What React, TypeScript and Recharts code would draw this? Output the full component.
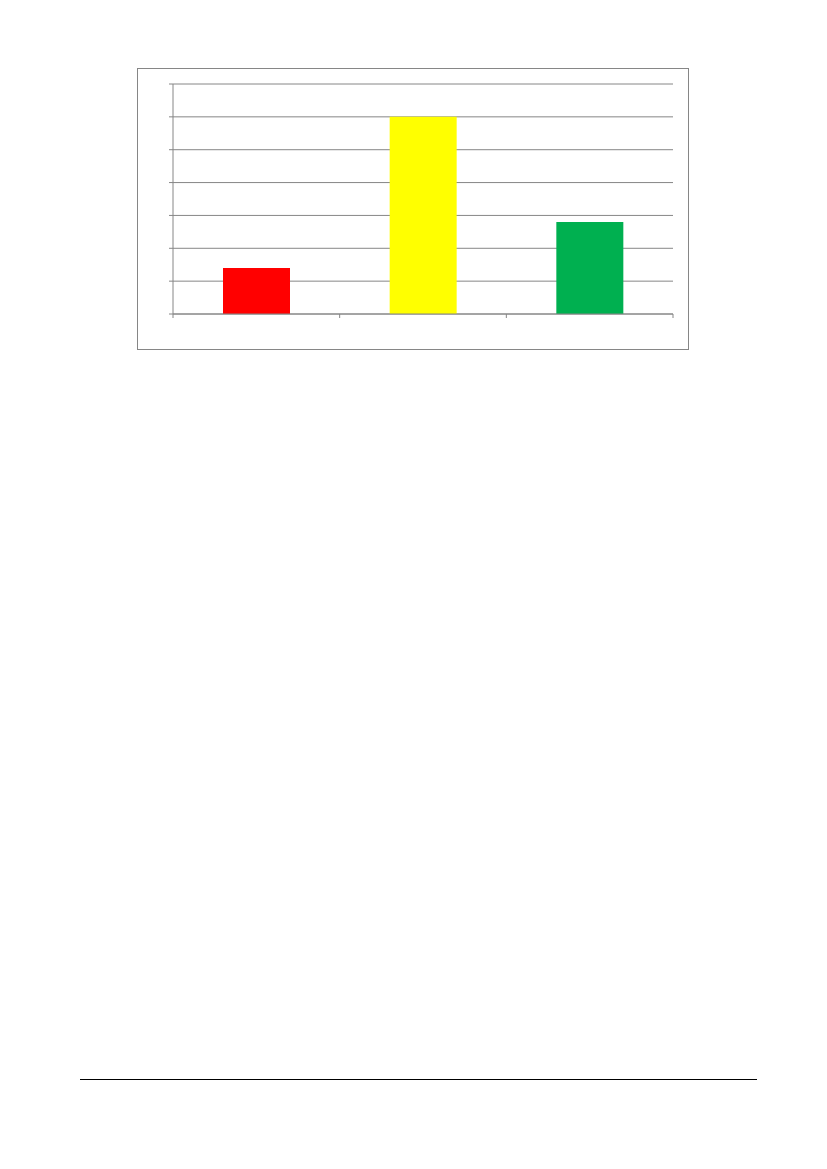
import React from 'react';
import { BarChart, Bar, XAxis, YAxis, CartesianGrid, Cell } from 'recharts';

const categories = ['1', '2', '3'];
const values = [1.4, 6, 2.8];
const barColors = ['#FF0000', '#FFFF00', '#00B050'];
const yTicks = [0, 1, 2, 3, 4, 5, 6, 7];

const data = categories.map((c, i) => ({ name: c, value: values[i] }));

const GRID = '#868686';
const TICK = 4;

function BoundaryTick(props: any) {
  const { x, y, payload, index, visibleTicksCount } = props;
  const half = payload && typeof payload.offset === 'number' ? payload.offset : 0;
  const top = y - TICK;
  const left = x - half;
  const isLast = index === (visibleTicksCount ?? categories.length) - 1;
  return (
    <g>
      <line x1={left} x2={left} y1={top} y2={y} stroke={GRID} strokeWidth={1} />
      {isLast ? (
        <line x1={x + half} x2={x + half} y1={top} y2={y} stroke={GRID} strokeWidth={1} />
      ) : null}
    </g>
  );
}

export default function App() {
  return (
    <div style={{ position: 'relative', width: 827, height: 1169 }}>
      <div
        style={{
          position: 'absolute',
          left: 137 - 8,
          top: 68 - 8,
          width: 552,
          height: 282,
          border: `1px solid ${GRID}`,
          boxSizing: 'border-box',
        }}
      />
      <div style={{ position: 'absolute', left: -8, top: -8 }}>
        <BarChart
          width={827}
          height={400}
          data={data}
          margin={{ top: 84, right: 154, bottom: 56, left: 143 }}
          barCategoryGap="30%"
        >
          <CartesianGrid vertical={false} stroke={GRID} strokeWidth={1} />
          <YAxis
            type="number"
            domain={[0, 7]}
            ticks={yTicks}
            width={30}
            axisLine={{ stroke: GRID }}
            tickLine={{ stroke: GRID }}
            tickSize={TICK}
            tickFormatter={() => ''}
            interval={0}
          />
          <XAxis
            dataKey="name"
            height={30}
            axisLine={{ stroke: GRID }}
            tickLine={false}
            tickSize={TICK}
            tickMargin={0}
            tick={<BoundaryTick />}
            interval={0}
          />
          <Bar dataKey="value" isAnimationActive={false}>
            {data.map((d, i) => (
              <Cell key={d.name} fill={barColors[i]} />
            ))}
          </Bar>
        </BarChart>
      </div>
      <div
        style={{
          position: 'absolute',
          left: 80 - 8,
          top: 1079 - 8,
          width: 677,
          height: 1,
          background: '#000',
        }}
      />
    </div>
  );
}
